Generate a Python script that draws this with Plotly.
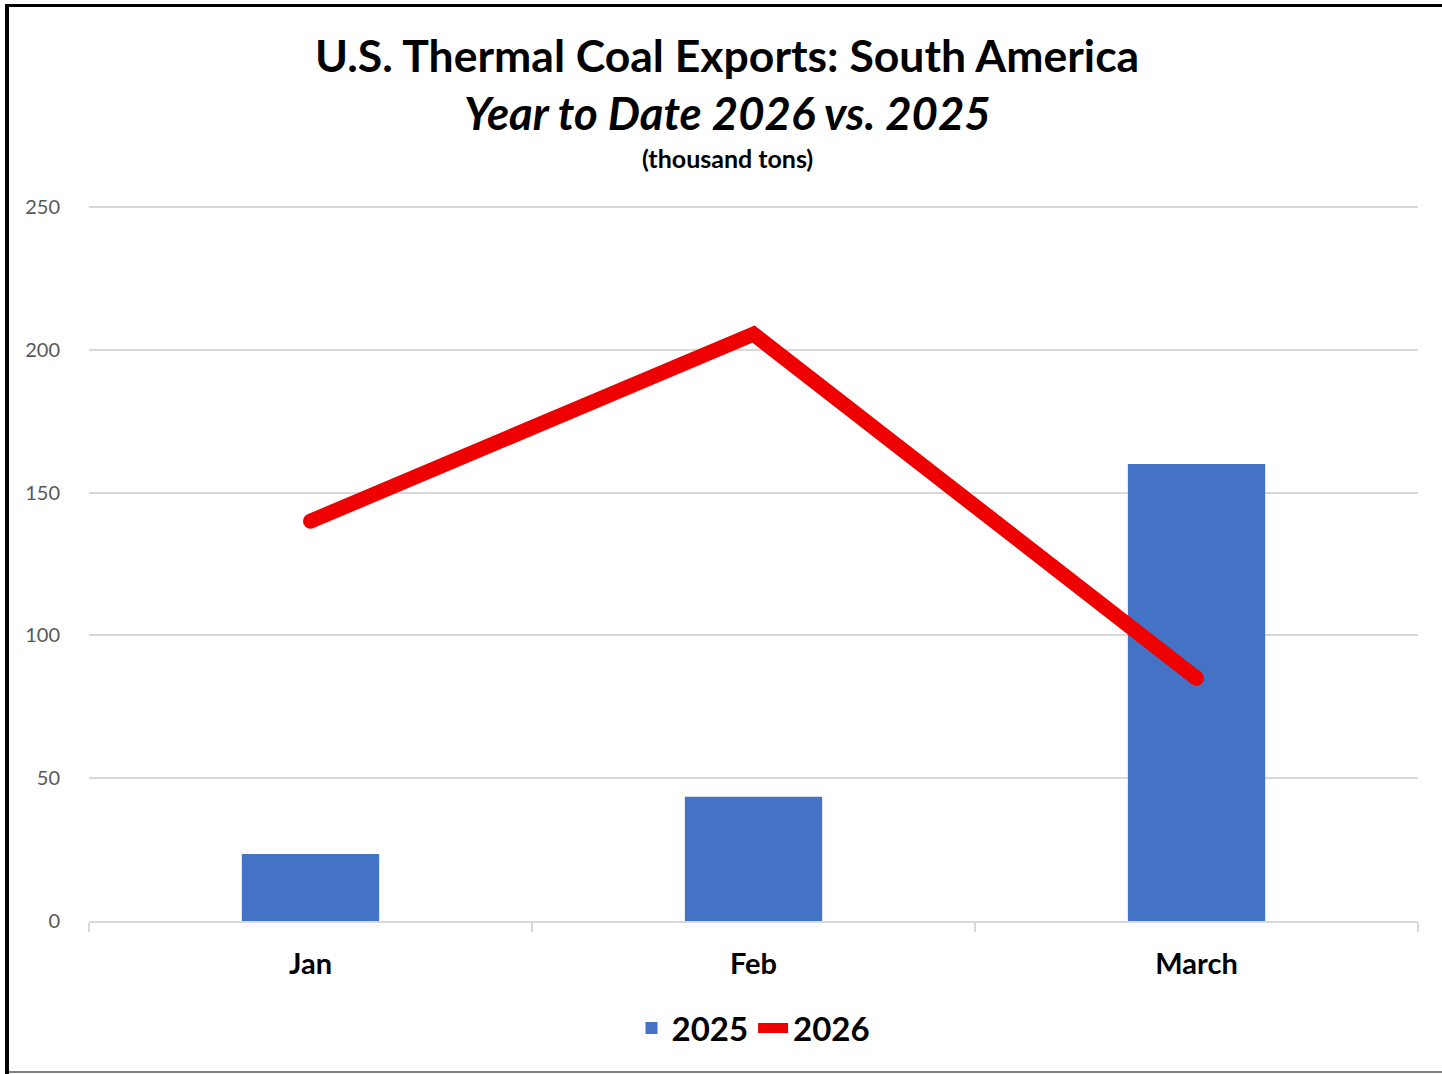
import plotly.graph_objects as go

months = ["Jan", "Feb", "March"]
exports_2025 = [23.5, 43.5, 160]
exports_2026 = [140, 205.5, 85]
y_ticks = [0, 50, 100, 150, 200, 250]

W, H = 1442, 1074
L, R, T, B = 89, 1418, 205, 921
YMAX = 250.7
FONT = "Lato"

def px(x):
    return (x - L) / (R - L)

def py(y):
    return (B - y) / (B - T)

fig = go.Figure()
fig.add_trace(go.Bar(x=months, y=exports_2025, name="2025",
                     marker=dict(color="#4472C4", line=dict(width=0))))
fig.add_trace(go.Scatter(x=months, y=exports_2026, name="2026", mode="lines",
                         line=dict(color="#EE0000", width=15)))
fig.add_trace(go.Scatter(x=[months[0], months[-1]], y=[exports_2026[0], exports_2026[-1]],
                         mode="markers", showlegend=False, hoverinfo="skip",
                         marker=dict(color="#EE0000", size=15, line=dict(width=0))))

fig.update_layout(
    width=W, height=H,
    margin=dict(l=L, r=W - R, t=T, b=H - B),
    paper_bgcolor="white", plot_bgcolor="white",
    bargap=0.69,
    font=dict(family=FONT, color="black"),
    showlegend=True,
    legend=dict(orientation="h", x=0.5, xanchor="center", y=py(1028), yanchor="middle",
                font=dict(family=FONT, size=33, color="black", weight="bold"),
                traceorder="normal"),
    xaxis=dict(showline=True, linecolor="#D9D9D9", linewidth=2,
               ticks="outside", tickson="boundaries", ticklen=9, tickcolor="#D9D9D9", tickwidth=2,
               tickfont=dict(family=FONT, size=29, color="black", weight="bold"),
               ticklabelstandoff=16, showgrid=False),
    yaxis=dict(range=[0, YMAX], tickvals=y_ticks, showgrid=True, gridcolor="#D9D9D9", gridwidth=1.5,
               zeroline=False, showline=False,
               tickfont=dict(family=FONT, size=20, color="#595959"),
               ticklabelstandoff=28),
    annotations=[
        dict(text="<b>U.S. Thermal Coal Exports: South America</b>", x=px(727), y=py(55),
             xref="paper", yref="paper", showarrow=False, xanchor="center", yanchor="middle",
             font=dict(family=FONT, size=44.5, color="black")),
        dict(text="<b><i>Year to Date 2026 vs. 2025</i></b>", x=px(727), y=py(113),
             xref="paper", yref="paper", showarrow=False, xanchor="center", yanchor="middle",
             font=dict(family=FONT, size=45.5, color="black")),
        dict(text="<b>(thousand tons)</b>", x=px(727), y=py(158),
             xref="paper", yref="paper", showarrow=False, xanchor="center", yanchor="middle",
             font=dict(family=FONT, size=25, color="black")),
    ],
    shapes=[
        dict(type="line", xref="paper", yref="paper", x0=px(7), x1=px(7), y0=py(4), y1=py(1074),
             line=dict(color="black", width=4)),
        dict(type="line", xref="paper", yref="paper", x0=px(5), x1=px(1442), y0=py(5.5), y1=py(5.5),
             line=dict(color="black", width=3)),
        dict(type="line", xref="paper", yref="paper", x0=px(9), x1=px(1442), y0=py(1072), y1=py(1072),
             line=dict(color="#808080", width=2)),
    ],
)

fig.write_html("out.html", config={"displayModeBar": False},
               post_script="document.body.style.margin='0px';document.body.style.padding='0px';")
